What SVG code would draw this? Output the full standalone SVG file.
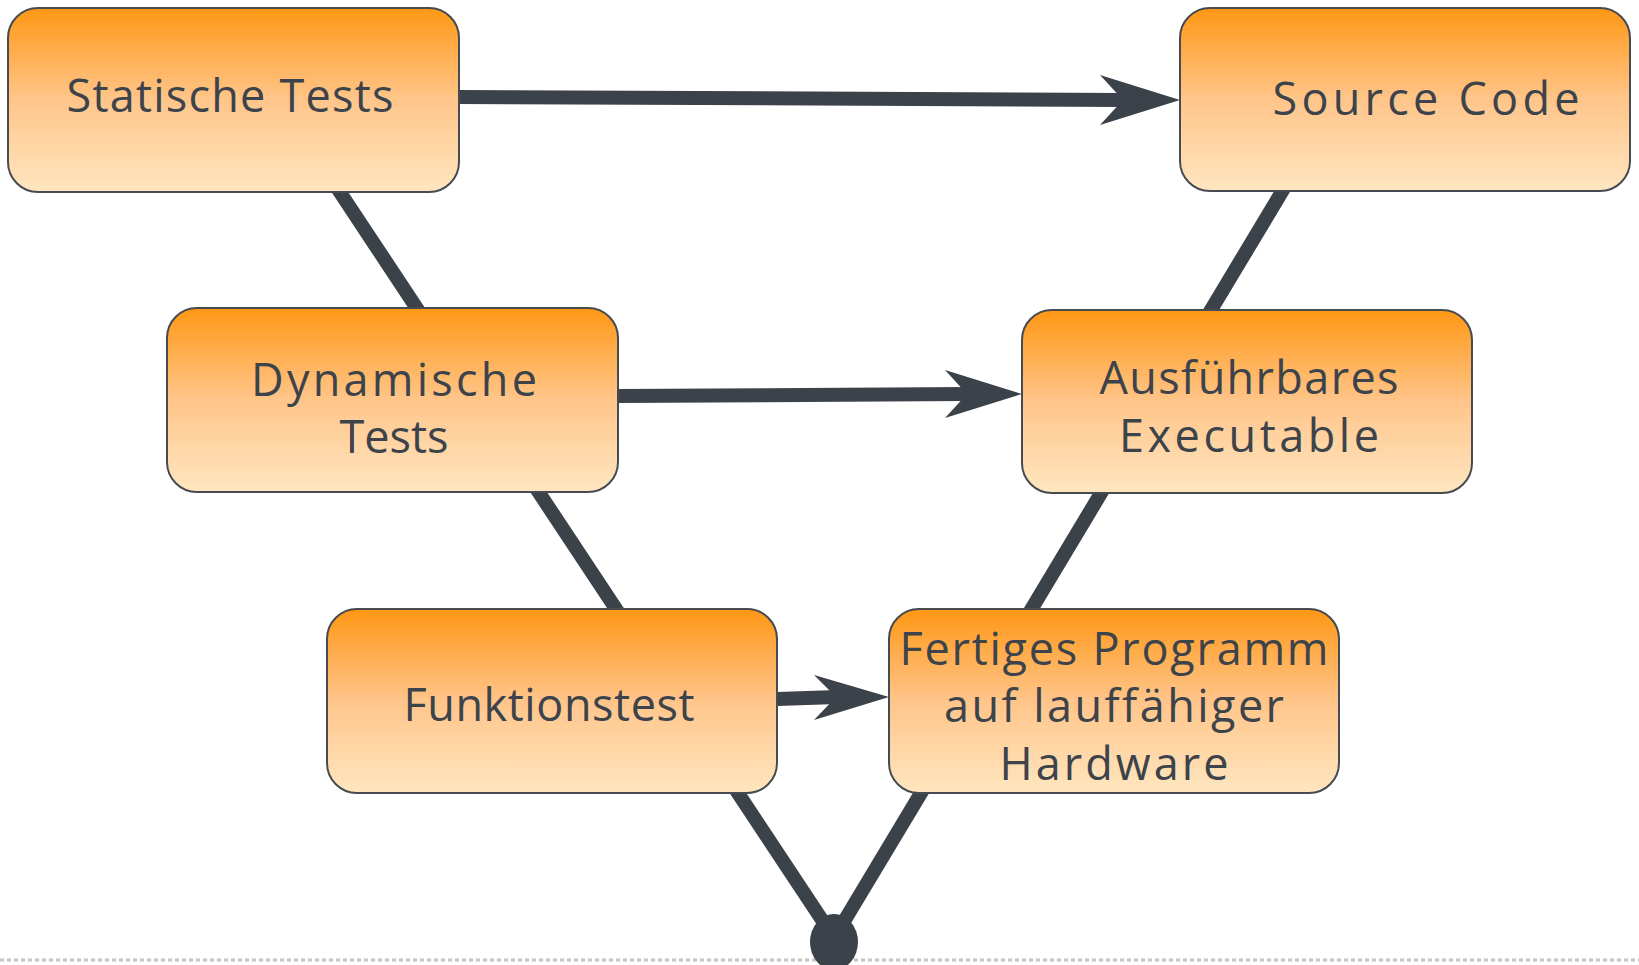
<svg xmlns="http://www.w3.org/2000/svg" width="1639" height="965" viewBox="0 0 1639 965">
<defs>
<linearGradient id="g" x1="0" y1="0" x2="0" y2="1">
<stop offset="0" stop-color="#ff9714"/>
<stop offset="0.5" stop-color="#ffc58a"/>
<stop offset="1" stop-color="#ffe6c0"/>
</linearGradient>
<style>
.box{fill:url(#g);stroke:#464b52;stroke-width:2}
.t{font-family:"Open Sans",Lato,"Liberation Sans",sans-serif;font-size:45px;fill:#3d434b;text-anchor:middle;font-variant-ligatures:none}
.ln{stroke:#3b424a;stroke-width:14;fill:none}
.ah{fill:#3b424a}
</style>
</defs>
<rect width="1639" height="965" fill="#ffffff"/>
<line x1="0" y1="960" x2="1639" y2="960" stroke="#c4c4c4" stroke-width="3" stroke-dasharray="4 3"/>
<g id="connectors">
<line class="ln" x1="312" y1="150" x2="834" y2="938"/>
<line class="ln" x1="1307" y1="150" x2="834" y2="938"/>
<line class="ln" x1="459" y1="97" x2="1125" y2="100"/>
<polygon class="ah" points="1180,100 1100,75 1123,100 1100,125"/>
<line class="ln" x1="618" y1="396" x2="968" y2="394"/>
<polygon class="ah" points="1022,394 945,370 967,394 945,418"/>
<line class="ln" x1="777" y1="699" x2="837" y2="697"/>
<polygon class="ah" points="889,697 814,675 836,697 814,720"/>
<ellipse class="ah" cx="834" cy="942" rx="24" ry="28"/>
</g>
<g id="statische">
<rect class="box" x="8" y="8" width="451" height="184" rx="30"/>
<text class="t" x="230" y="112" textLength="327" lengthAdjust="spacing">Statische Tests</text>
</g>
<g id="source">
<rect class="box" x="1180" y="8" width="450" height="183" rx="30"/>
<text class="t" x="1426" y="115" textLength="307" lengthAdjust="spacing">Source Code</text>
</g>
<g id="dynamische">
<rect class="box" x="167" y="308" width="451" height="184" rx="30"/>
<text class="t" x="394" y="396" textLength="286" lengthAdjust="spacing">Dynamische</text>
<text class="t" x="394" y="453">Tests</text>
</g>
<g id="ausfuehrbares">
<rect class="box" x="1022" y="310" width="450" height="183" rx="30"/>
<text class="t" x="1249" y="394" textLength="299" lengthAdjust="spacing">Ausführbares</text>
<text class="t" x="1249" y="452" textLength="260" lengthAdjust="spacing">Executable</text>
</g>
<g id="funktionstest">
<rect class="box" x="327" y="609" width="450" height="184" rx="30"/>
<text class="t" x="549" y="721" textLength="291" lengthAdjust="spacing">Funktionstest</text>
</g>
<g id="fertiges">
<rect class="box" x="889" y="609" width="450" height="184" rx="30"/>
<text class="t" x="1114" y="665" textLength="429" lengthAdjust="spacing">Fertiges Programm</text>
<text class="t" x="1114" y="722" textLength="340" lengthAdjust="spacing">auf lauffähiger</text>
<text class="t" x="1114" y="780" textLength="229" lengthAdjust="spacing">Hardware</text>
</g>
</svg>
